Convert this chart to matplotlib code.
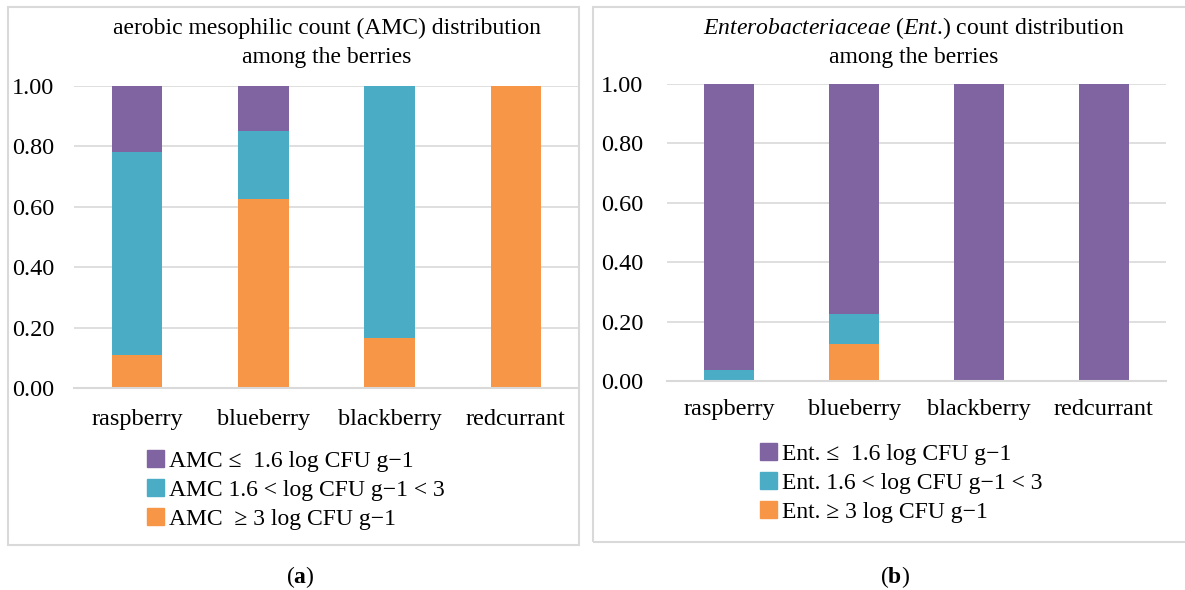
import matplotlib
matplotlib.use("Agg")
import matplotlib.pyplot as plt
from matplotlib.patches import Patch, Rectangle
import numpy as np

plt.rcParams['font.family'] = ['Liberation Serif', 'DejaVu Serif']
plt.rcParams['mathtext.fontset'] = 'custom'
plt.rcParams['mathtext.rm'] = 'Liberation Serif'
plt.rcParams['mathtext.it'] = 'Liberation Serif:italic'
plt.rcParams['mathtext.bf'] = 'Liberation Serif:bold'

berries = ['raspberry', 'blueberry', 'blackberry', 'redcurrant']
yticks = [0.0, 0.2, 0.4, 0.6, 0.8, 1.0]

# (a) aerobic mesophilic count shares
amc_high = [0.11, 0.625, 0.165, 1.0]   # >= 3 log
amc_mid = [0.67, 0.225, 0.835, 0.0]    # 1.6 < log < 3
amc_low = [0.22, 0.15, 0.0, 0.0]       # <= 1.6 log

# (b) Enterobacteriaceae count shares
ent_high = [0.0, 0.125, 0.0, 0.0]
ent_mid = [0.036, 0.1, 0.0, 0.0]
ent_low = [0.964, 0.775, 1.0, 1.0]

amc_labels = ['AMC \u2264  1.6 log CFU g\u22121',
              'AMC 1.6 < log CFU g\u22121 < 3',
              'AMC  \u2265 3 log CFU g\u22121']
ent_labels = ['Ent. \u2264  1.6 log CFU g\u22121',
              'Ent. 1.6 < log CFU g\u22121 < 3',
              'Ent. \u2265 3 log CFU g\u22121']

PURPLE = '#8064A2'
TEAL = '#4BACC6'
ORANGE = '#F79646'
GRID = '#D9D9D9'

W, H = 1185, 590
fig = plt.figure(figsize=(W / 100, H / 100), dpi=100)


def px_axes(x0, y0, x1, y1):
    return fig.add_axes([x0 / W, (H - y1) / H, (x1 - x0) / W, (y1 - y0) / H])


def draw_panel(ax, high, mid, low, ypad, xpad):
    x = np.arange(len(berries))
    ax.bar(x, high, width=0.4, color=ORANGE, zorder=3)
    ax.bar(x, mid, width=0.4, bottom=high, color=TEAL, zorder=3)
    bottom2 = np.array(high) + np.array(mid)
    ax.bar(x, low, width=0.4, bottom=bottom2, color=PURPLE, zorder=3)
    ax.set_xlim(-0.5, 3.5)
    ax.set_ylim(0, 1.0)
    ax.set_yticks(yticks)
    ax.set_yticklabels([f'{v:.2f}' for v in yticks])
    ax.set_xticks(x)
    ax.set_xticklabels(berries)
    ax.yaxis.grid(True, color=GRID, lw=1.2, zorder=0)
    ax.set_axisbelow(True)
    for s in ['top', 'right', 'left']:
        ax.spines[s].set_visible(False)
    ax.spines['bottom'].set_color(GRID)
    ax.spines['bottom'].set_linewidth(1.5)
    ax.spines['bottom'].set_zorder(4)
    ax.tick_params(axis='y', length=0, pad=ypad, labelsize=17.5)
    ax.tick_params(axis='x', length=0, pad=xpad, labelsize=17.5)


ax1 = px_axes(74, 86, 579, 388)
draw_panel(ax1, amc_high, amc_mid, amc_low, 14, 15)
ax2 = px_axes(667, 84, 1166, 381)
draw_panel(ax2, ent_high, ent_mid, ent_low, 17, 13)

# frames around panels
fig.patches.append(Rectangle((8 / W, (H - 545) / H), (579 - 8) / W, (545 - 7) / H,
                             transform=fig.transFigure, fill=False, ec='#D9D9D9', lw=1.5))
fig.patches.append(Rectangle((593 / W, (H - 542) / H), (1200 - 593) / W, (542 - 7) / H,
                             transform=fig.transFigure, fill=False, ec='#D9D9D9', lw=1.5))

# titles
fig.text(327 / W, 1 - 28 / H, 'aerobic mesophilic count (AMC) distribution',
         ha='center', va='center', fontsize=17)
fig.text(327 / W, 1 - 57 / H, 'among the berries', ha='center', va='center', fontsize=17)
fig.text(914 / W, 1 - 28 / H, r'$\mathit{Enterobacteriaceae}$ ($\mathit{Ent}$.) count distribution',
         ha='center', va='center', fontsize=17)
fig.text(914 / W, 1 - 57 / H, 'among the berries', ha='center', va='center', fontsize=17)

# legends
colors = [PURPLE, TEAL, ORANGE]
h1 = [Patch(color=c) for c in colors]
fig.legend(h1, amc_labels, loc='upper left', bbox_to_anchor=(147 / W, 1 - 450 / H),
           frameon=False, fontsize=17, handlelength=0.7, handleheight=0.7,
           handletextpad=0.25, labelspacing=0.32, borderpad=0, borderaxespad=0)
fig.legend(h1, ent_labels, loc='upper left', bbox_to_anchor=(760 / W, 1 - 443 / H),
           frameon=False, fontsize=17, handlelength=0.7, handleheight=0.7,
           handletextpad=0.25, labelspacing=0.32, borderpad=0, borderaxespad=0)

# panel captions
fig.text(300 / W, 1 - 577 / H, r'($\mathbf{a}$)', ha='center', va='center', fontsize=17)
fig.text(895 / W, 1 - 577 / H, r'($\mathbf{b}$)', ha='center', va='center', fontsize=17)

fig.savefig('out.png', dpi=100)
